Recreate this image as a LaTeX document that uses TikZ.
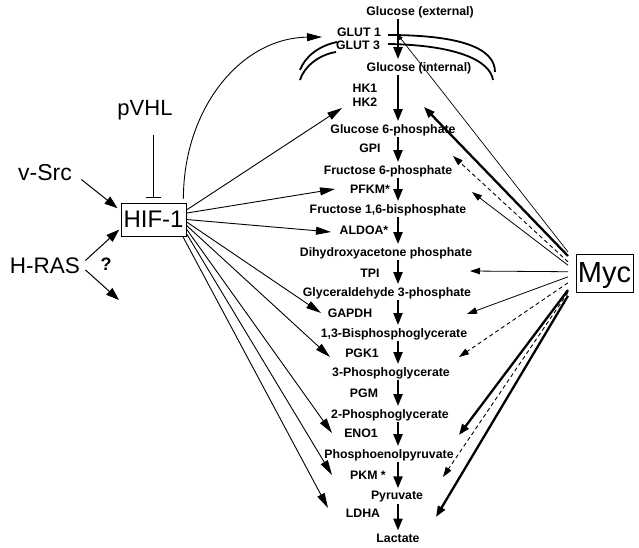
\documentclass[tikz,border=0pt]{standalone}
\usepackage{fontspec}
\setmainfont{Liberation Sans}
\usetikzlibrary{arrows.meta}
\begin{document}
\begin{tikzpicture}[x=1pt,y=-1pt,
  lbl/.style={font=\bfseries\fontsize{12.3}{14}\selectfont,inner sep=0pt},
  word/.style={font=\fontsize{#1}{#1}\selectfont,inner sep=0pt},
  flow/.style={line width=2.2pt,-{Triangle[length=12pt,width=9pt]}},
  hifarr/.style={line width=0.9pt,-{Triangle[length=15pt,width=8pt]}},
  inarr/.style={line width=1pt,-{Triangle[length=13pt,width=9pt]}},
  mycthin/.style={line width=0.8pt,-{Triangle[length=10pt,width=6.5pt]}},
  mycfine/.style={line width=0.7pt,-{Triangle[length=5pt,width=4pt]}},
  mycdash/.style={mycthin,line width=0.9pt,dash pattern=on 4pt off 3pt},
  mycbold/.style={line width=2.3pt,-{Triangle[length=11pt,width=8pt]}},
  memb/.style={line width=1.8pt}]
\useasboundingbox (0,0) rectangle (639,548);

% metabolites
\coordinate (col) at (398,0);
\foreach \n/\x/\y/\t in {gle/420/12/{Glucose (external)}, gli/419/68/{Glucose (internal)},
  g6p/393/130/{Glucose 6-phosphate}, f6p/388/171/{Fructose 6-phosphate},
  f16/388/210/{Fructose 1,6-bisphosphate}, dhap/386/253/{Dihydroxyacetone phosphate},
  g3p/387/293/{Glyceraldehyde 3-phosphate}, bpg/394/334/{1,3-Bisphosphoglycerate},
  pg3/391/373/{3-Phosphoglycerate}, pg2/390/415/{2-Phosphoglycerate},
  pep/389/455/{Phosphoenolpyruvate}, pyr/397/497/{Pyruvate}, lac/398/538/{Lactate}}
  \node[lbl] (\n) at (\x,\y) {\t};

% enzymes
\foreach \n/\x/\y/\t in {glut1/359/32/{GLUT 1}, glut3/358/45/{GLUT 3}, hk1/365/88/HK1, hk2/365/102/HK2,
  gpi/370/148/GPI, pfkm/370/189/PFKM*, aldoa/364/230/ALDOA*, tpi/370/273/TPI, gapdh/350/313/GAPDH,
  pgk1/362/353/PGK1, pgm/364/393/PGM, eno1/361/433/ENO1, pkm/368/475/{PKM *}, ldha/363/513/LDHA}
  \node[lbl] (\n) at (\x,\y) {\t};

\foreach \a/\b in {gle/gli, gli/g6p, g6p/f6p, f6p/f16, f16/dhap, dhap/g3p, g3p/bpg,
  bpg/pg3, pg3/pg2, pg2/pep, pep/pyr, pyr/lac}
  \draw[flow,shorten <=1.5pt,shorten >=3pt] (\a.south -| col) -- (\b.north -| col);

% membrane
\draw[memb] (300,70) .. controls (305,57) and (318,46) .. (337,42);
\draw[memb] (300,80) .. controls (304,67) and (318,55) .. (336,52);
\draw[memb] (388,35) .. controls (460,35) and (495,48) .. (495,72);
\draw[memb] (388,44) .. controls (455,45) and (490,60) .. (493,80);

% HIF-1 side
\node[draw,line width=0.8pt,word=24,minimum width=65pt,minimum height=33pt] (hif) at (153.5,219.5) {HIF-1};
\node[word=22,anchor=base] (pvhl) at (145,116) {pVHL};
\node[word=23,anchor=base] (vsrc) at (45,180) {v-Src};
\node[word=22.5,anchor=base] (hras) at (45,273) {H-RAS};
\node[word=18,font=\bfseries\fontsize{18}{18}\selectfont,anchor=base] (q) at (106,270) {?};
\coordinate (rasdown) at (119,300);

\draw[line width=0.8pt,-{Bar[width=15pt,line width=1pt]},shorten <=14pt,shorten >=5pt]
  (pvhl.south -| hif.north) -- (hif.north);
\draw[inarr,shorten <=12pt,shorten >=4pt] (vsrc.east) -- (hif.165);
\draw[inarr,shorten <=7pt,shorten >=2pt] (hras.east) -- (hif.195);
\draw[inarr,shorten <=7pt] (hras.east) -- (rasdown);

\coordinate (glutin) at (322,37);
\draw[hifarr,shorten <=4pt] ([xshift=-3pt]hif.north east) .. controls +(0,-93) and +(-82,1) .. (glutin);
\foreach \n/\x/\y in {hkin/342/108, pfin/335/189, alin/331/232, gain/321/313,
  pgin/330/357, enin/332/433, pkin/332/475, ldin/328/508}
  \coordinate (\n) at (\x,\y);
\foreach \a/\t in {16/hkin, 11/pfin, 0/alin, -4/gain, -10/pgin, -16/enin, -23/pkin, -30/ldin}
  \draw[hifarr] (hif.\a) -- (\t);

% Myc side
\node[draw,line width=0.8pt,word=29,minimum width=57pt,minimum height=38pt,text depth=0pt,outer sep=8pt]
  (myc) at (604.5,273) {Myc};
\foreach \n/\x/\y in {glutm/398/35, hkm/424/107, gpim/453/156, pfm/472/192, tpim/470/271,
  gapm/467/314, pgkm/459/357, enom/459/435, pkmm/443/477, ldhm/436/517}
  \coordinate (\n) at (\x,\y);
\foreach \a/\t/\s in {150/glutm/mycfine, 155/hkm/mycbold, 163/gpim/mycdash, 168/pfm/mycthin,
  178/tpim/mycthin, 186/gapm/mycthin, 195/pgkm/mycdash, 205/enom/mycbold, 208/pkmm/mycdash,
  212/ldhm/mycbold}
  \draw[\s] (myc.\a) -- (\t);
\end{tikzpicture}
\end{document}
